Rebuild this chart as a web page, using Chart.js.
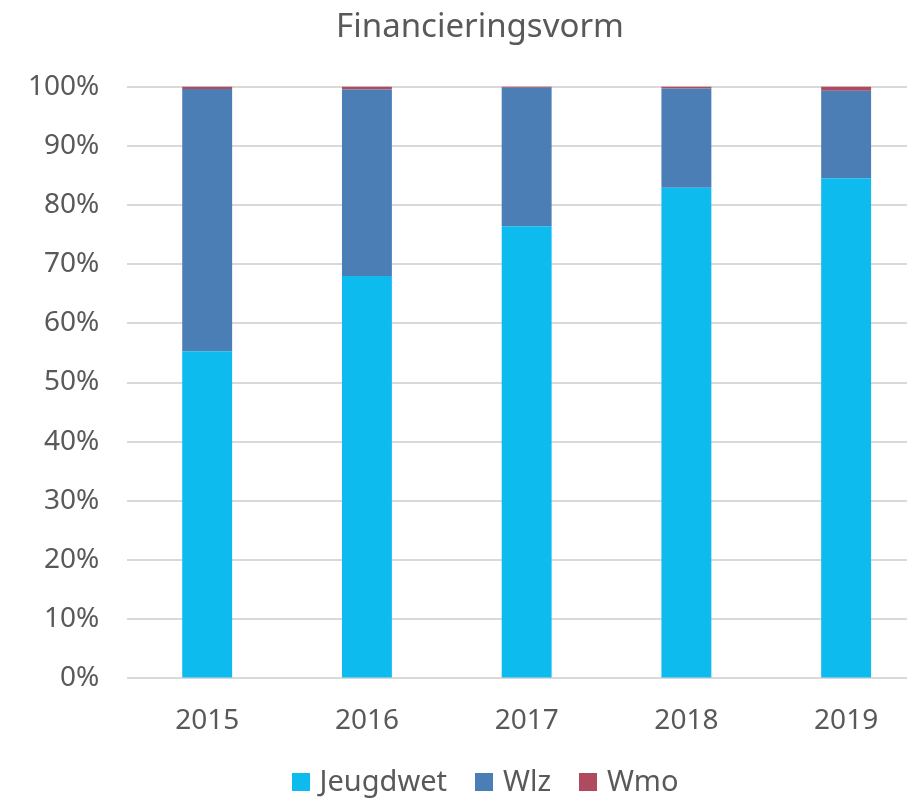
<!DOCTYPE html>
<html>
<head>
<meta charset="utf-8">
<script src="https://cdn.jsdelivr.net/npm/chart.js@4/dist/chart.umd.min.js"></script>
<style>
  html, body { margin: 0; padding: 0; background: #fff; overflow: hidden; }
  #wrap { position: relative; width: 960px; height: 800px; }
  #legend {
    position: absolute; left: 0; top: 760px; width: 970px; height: 40px;
    display: flex; justify-content: center; align-items: center;
    font-family: 'Noto Sans', sans-serif; font-size: 29px; line-height: 40px; color: #595959;
  }
  .item { display: flex; align-items: center; margin: 0 14px; }
  .box { width: 18px; height: 18px; margin-right: 10px; margin-top: 4px; }
</style>
</head>
<body>
<div id="wrap"><canvas id="finChart"></canvas><div id="legend"></div></div>
<script>
// categories and shares per financing type (percent)
const years = ['2015', '2016', '2017', '2018', '2019'];
const seriesNames = ['Jeugdwet', 'Wlz', 'Wmo'];
const jeugdwet = [55.3, 68.0, 76.4, 82.9, 84.5];
const wlz = [44.3, 31.5, 23.4, 16.8, 14.8];
const wmo = [0.4, 0.5, 0.2, 0.3, 0.7];
const colors = ['#0EBBEF', '#4A7EB4', '#B04A5E'];

const textColor = '#595959';
const font = "'Noto Sans', sans-serif";

const ctx = document.getElementById('finChart').getContext('2d');
const finChart = new Chart(ctx, {
    type: 'bar',
    data: {
        labels: years,
        datasets: [jeugdwet, wlz, wmo].map(function(d, i) {
            return { label: seriesNames[i], data: d, backgroundColor: colors[i] };
        })
    },
    options: {
        responsive: true,
        maintainAspectRatio: false,
        animation: false,
        datasets: {
            bar: { barPercentage: 0.3125, categoryPercentage: 1 }
        },
        layout: { padding: { top: 8, left: 0, right: 0, bottom: 44 } },
        plugins: {
            title: {
                display: true,
                text: 'Financieringsvorm',
                color: textColor,
                font: { family: font, size: 33, weight: 'normal' },
                padding: { top: 0, bottom: 39 }
            },
            legend: { display: false },
            tooltip: { enabled: false }
        },
        scales: {
            x: {
                stacked: true,
                grid: { display: false },
                border: { color: '#d9d9d9' },
                ticks: { color: textColor, font: { family: font, size: 28 }, padding: 18 }
            },
            y: {
                stacked: true,
                min: 0,
                max: 100,
                border: { display: false },
                grid: { color: '#d9d9d9', lineWidth: 2, drawTicks: false },
                ticks: {
                    stepSize: 10,
                    color: textColor,
                    padding: 28,
                    font: { family: font, size: 28 },
                    callback: function(v) { return v + '%'; }
                }
            },
            // empty right axis, only reserves the space cut off at the right edge
            yRight: {
                position: 'right',
                display: true,
                grid: { display: false },
                border: { display: false },
                ticks: { display: false },
                afterFit: function(axis) { axis.width = 34; }
            }
        }
    }
});

// legend below the chart, built from the datasets
const legendEl = document.getElementById('legend');
finChart.data.datasets.forEach(function(ds) {
    const item = document.createElement('div');
    item.className = 'item';
    const box = document.createElement('span');
    box.className = 'box';
    box.style.background = ds.backgroundColor;
    const label = document.createElement('span');
    label.textContent = ds.label;
    item.appendChild(box);
    item.appendChild(label);
    legendEl.appendChild(item);
});
</script>
</body>
</html>
